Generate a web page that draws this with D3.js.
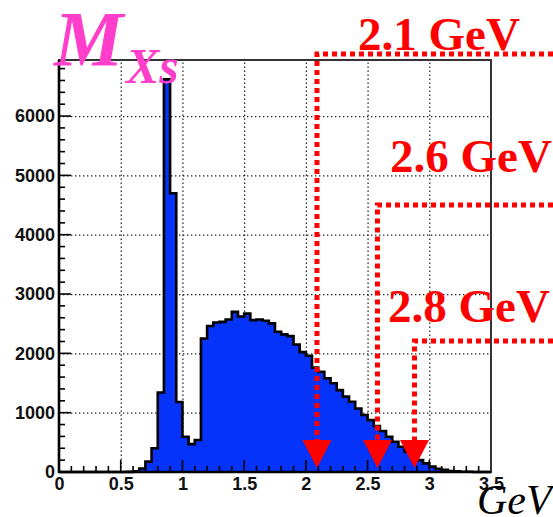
<!DOCTYPE html>
<html>
<head>
<meta charset="utf-8">
<script src="https://cdn.jsdelivr.net/npm/d3@7"></script>
<style>
  body { margin: 0; background: #fff; }
  .tick text { font-family: "Liberation Sans", Arial, sans-serif; font-weight: bold; font-size: 18px; fill: #111; }
  .grid line { stroke: #222; stroke-width: 1.2; stroke-dasharray: 1.4 2.6; }
  .grid path { display: none; }
</style>
</head>
<body>
<div id="chart"></div>
<script>
// histogram of M_Xs, bin width 0.05 GeV from 0 to 3.5
var binWidth = 0.05;
var counts = [
  0, 0, 0, 0, 0, 0, 0, 0, 0, 0,
  0, 2, 10, 60, 175, 400, 1340, 6620, 4700, 1180,
  595, 470, 540, 2250, 2460, 2520, 2530, 2570, 2700, 2620,
  2670, 2560, 2570, 2550, 2505, 2365, 2320, 2290, 2150, 2020,
  1960, 1760, 1690, 1580, 1495, 1380, 1270, 1185, 1070, 960,
  875, 775, 690, 595, 510, 425, 340, 260, 200, 145,
  90, 55, 35, 18, 10, 5, 3, 1, 0, 0
];

// x ticks and y ticks
var xMajor = [0, 0.5, 1, 1.5, 2, 2.5, 3, 3.5];
var xTickLabels = ["0", "0.5", "1", "1.5", "2", "2.5", "3", "3.5"];
var yMajor = [0, 1000, 2000, 3000, 4000, 5000, 6000];

// cut annotations: arrow position (GeV), label, level of the horizontal dotted line (counts)
var cutX = [2.09, 2.58, 2.88];
var cutLabels = ["2.1 GeV", "2.6 GeV", "2.8 GeV"];
var cutLevel = [7045, 4500, 2208];

var width = 553,
    height = 517;

var x = d3.scaleLinear().domain([0, 3.5]).range([59, 491]);
var y = d3.scaleLinear().domain([0, 6945]).range([472, 60]);

var svg = d3.select("#chart").append("svg")
    .attr("width", width)
    .attr("height", height);

// grid
svg.append("g")
    .attr("class", "grid")
    .attr("transform", "translate(0,472)")
    .call(d3.axisBottom(x).tickValues(xMajor.slice(1, -1)).tickSize(-412).tickFormat(""));
svg.append("g")
    .attr("class", "grid")
    .attr("transform", "translate(59,0)")
    .call(d3.axisLeft(y).tickValues(yMajor.slice(1)).tickSize(-432).tickFormat(""));

// histogram points (step after)
var pts = counts.map(function(c, i) { return {x: i * binWidth, v: c}; });
pts.push({x: counts.length * binWidth, v: counts[counts.length - 1]});

var area = d3.area()
    .curve(d3.curveStepAfter)
    .x(function(d) { return x(d.x); })
    .y0(y(0))
    .y1(function(d) { return y(d.v); });

var line = d3.line()
    .curve(d3.curveStepAfter)
    .x(function(d) { return x(d.x); })
    .y(function(d) { return y(d.v); });

svg.append("path")
    .datum(pts)
    .attr("d", area)
    .style("fill", "#0533fa");

svg.append("path")
    .datum(pts)
    .attr("d", line)
    .style("fill", "none")
    .style("stroke", "#000")
    .style("stroke-width", 2.6)
    .style("stroke-linejoin", "miter");

// frame
svg.append("rect")
    .attr("x", 59).attr("y", 60)
    .attr("width", 432).attr("height", 412)
    .style("fill", "none")
    .style("stroke", "#333")
    .style("stroke-width", 2);

// axes with ROOT-like inside ticks
var xAxis = svg.append("g").attr("transform", "translate(0,472)");
xAxis.call(d3.axisBottom(x).tickValues(xMajor).tickSize(0).tickPadding(5)
    .tickFormat(function(d, i) { return xTickLabels[i]; }));
xAxis.select(".domain").remove();

var xMinor = d3.range(0, 35).map(function(i) { return i / 10; });
svg.append("g").selectAll("line")
    .data(xMinor).enter().append("line")
    .attr("x1", function(d) { return x(d); })
    .attr("x2", function(d) { return x(d); })
    .attr("y1", 472)
    .attr("y2", function(d, i) { return i % 5 === 0 ? 460 : 466; })
    .style("stroke", "#000")
    .style("stroke-width", 1.6);

var yAxis = svg.append("g").attr("transform", "translate(59,0)");
yAxis.call(d3.axisLeft(y).tickValues(yMajor).tickSize(0).tickPadding(4).tickFormat(d3.format("d")));
yAxis.select(".domain").remove();

var yMinor = d3.range(0, 35).map(function(i) { return i * 200; });
svg.append("g").selectAll("line")
    .data(yMinor).enter().append("line")
    .attr("x1", 59)
    .attr("x2", function(d, i) { return i % 5 === 0 ? 71 : 65; })
    .attr("y1", function(d) { return y(d); })
    .attr("y2", function(d) { return y(d); })
    .style("stroke", "#000")
    .style("stroke-width", 1.6);

// thick axis lines
svg.append("line")
    .attr("x1", 59).attr("x2", 491).attr("y1", 472).attr("y2", 472)
    .style("stroke", "#000").style("stroke-width", 2.6);
svg.append("line")
    .attr("x1", 59).attr("x2", 59).attr("y1", 60).attr("y2", 473)
    .style("stroke", "#000").style("stroke-width", 2.6);

// cut arrows
var labelPos = [[358, 50], [390, 172], [388, 322]];
cutX.forEach(function(c, i) {
    var cx = x(c),
        cy = y(cutLevel[i]);
    svg.append("path")
        .attr("d", "M" + width + "," + cy + "H" + cx + "V440")
        .style("fill", "none")
        .style("stroke", "#ff0000")
        .style("stroke-width", 5)
        .style("stroke-dasharray", "5 4");
    svg.append("path")
        .attr("d", "M" + (cx - 14.5) + ",440H" + (cx + 14.5) + "L" + cx + ",468Z")
        .style("fill", "#ff0000");
    svg.append("text")
        .attr("x", labelPos[i][0])
        .attr("y", labelPos[i][1])
        .style("font-family", "'Liberation Serif', 'Times New Roman', serif")
        .style("font-weight", "bold")
        .style("font-size", "47px")
        .style("fill", "#ff0000")
        .text(cutLabels[i]);
});

// title M_Xs
var title = svg.append("text")
    .attr("x", 54)
    .attr("y", 65)
    .style("font-family", "'Liberation Serif', 'Times New Roman', serif")
    .style("font-weight", "bold")
    .style("font-style", "italic")
    .style("fill", "#ff3fcc");
title.append("tspan").style("font-size", "78px").text("M");
title.append("tspan").attr("x", 126).attr("y", 83).style("font-size", "50px").text("Xs");

// unit label
svg.append("text")
    .attr("x", 477)
    .attr("y", 514)
    .style("font-family", "'Liberation Serif', 'Times New Roman', serif")
    .style("font-style", "italic")
    .style("font-size", "42px")
    .style("fill", "#000")
    .text("GeV");
</script>
</body>
</html>
